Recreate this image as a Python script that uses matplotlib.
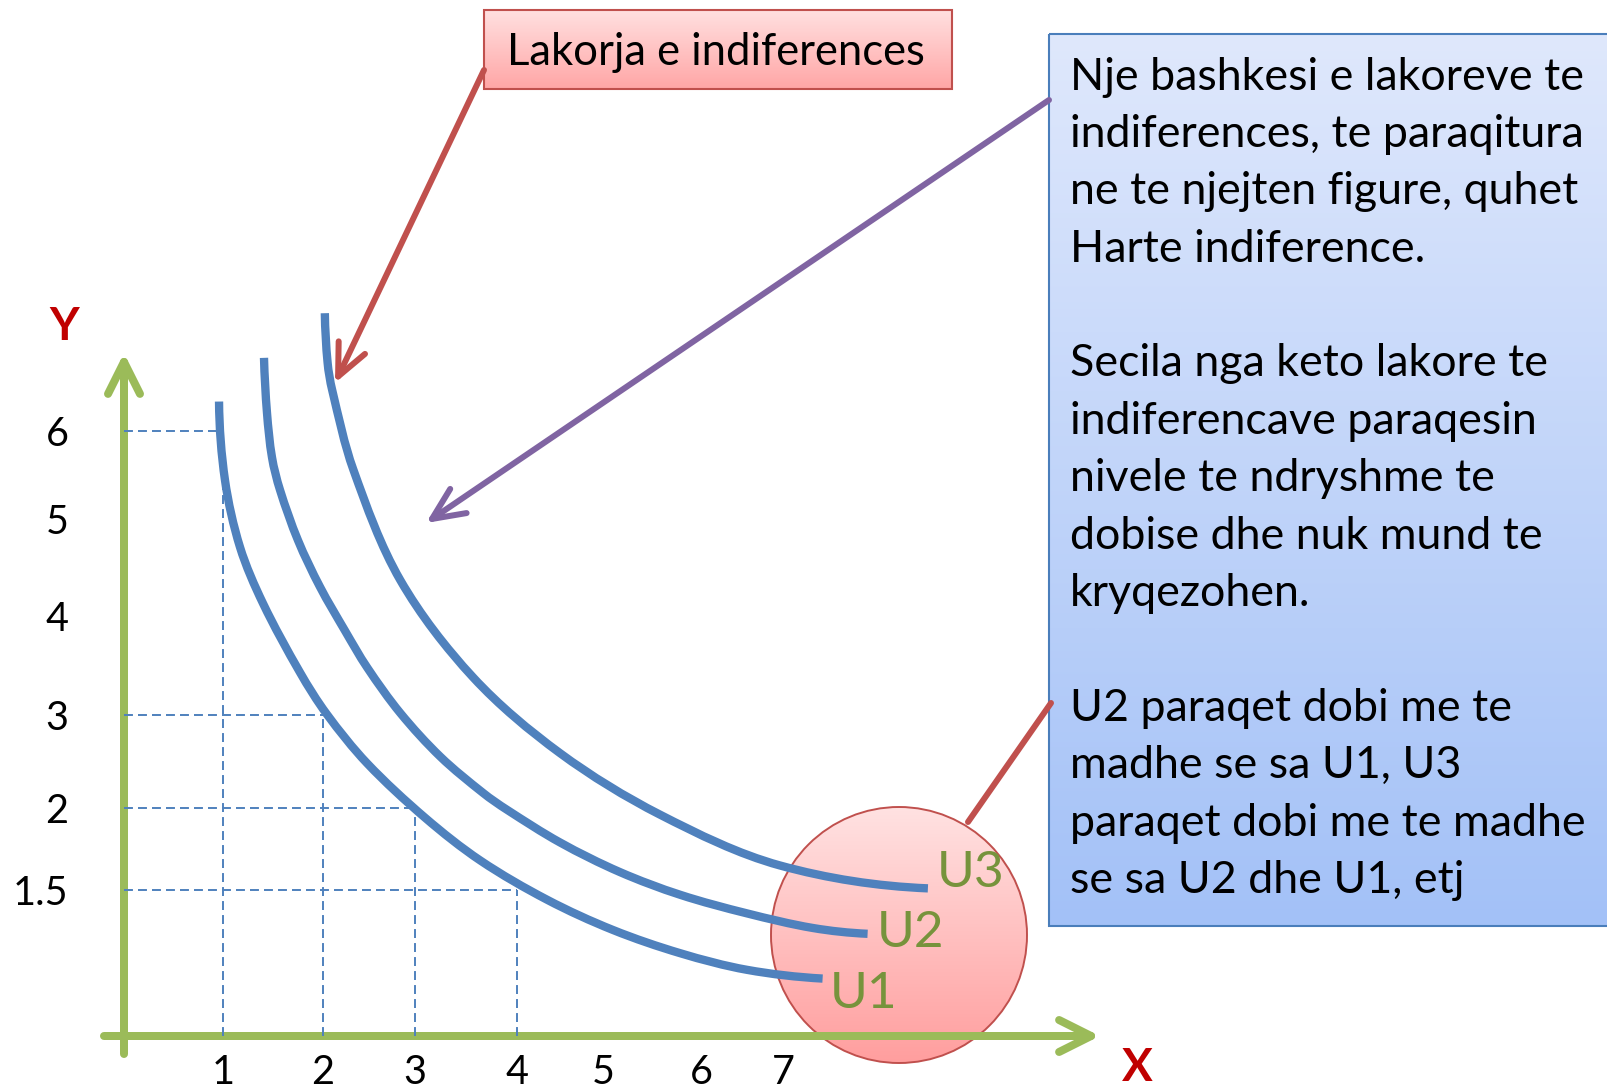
import numpy as np
import matplotlib
matplotlib.use("Agg")
import matplotlib.pyplot as plt
from matplotlib.patches import Rectangle, Circle, FancyArrowPatch, PathPatch
from matplotlib.path import Path

plt.rcParams['font.family'] = ['Lato', 'DejaVu Sans']

# ---------------- data ----------------
X_TICKS = [1, 2, 3, 4, 5, 6, 7]
X_LABELS = ['1', '2', '3', '4', '5', '6', '7']
Y_TICKS = [1.5, 2, 3, 4, 5, 6]
Y_LABELS = ['1.5', '2', '3', '4', '5', '6']

GUIDE_X = [1, 2, 3, 4]
GUIDE_Y = [6, 3, 2, 1.5]

U1_X = [0.96, 1.02, 1.17, 1.40, 1.77, 2.04, 2.48, 3.10, 3.64, 4.35, 5.10, 5.79, 6.56, 7.44]
U1_Y = [6.31, 5.44, 4.71, 4.13, 3.43, 3.01, 2.48, 1.94, 1.68, 1.40, 1.09, 0.85, 0.68, 0.59]

U2_X = [1.41, 1.44, 1.49, 1.57, 1.75, 1.97, 2.24, 2.48, 2.84, 3.25, 3.67, 3.90, 4.50, 5.17, 5.79, 6.56, 7.33, 7.94]
U2_Y = [6.77, 6.19, 5.70, 5.33, 4.78, 4.30, 3.85, 3.48, 3.02, 2.55, 2.16, 1.99, 1.79, 1.61, 1.45, 1.26, 1.11, 1.05]

U3_X = [2.02, 2.05, 2.10, 2.33, 2.84, 3.57, 4.50, 5.58, 6.96, 8.61]
U3_Y = [7.24, 6.72, 6.43, 5.56, 4.37, 3.38, 2.59, 1.96, 1.65, 1.51]

CURVE_NAMES = ['U1', 'U2', 'U3']

TITLE_TEXT = "Lakorja e indiferences"
BOX_LINES = [
    "Nje bashkesi e lakoreve te",
    "indiferences, te paraqitura",
    "ne te njejten figure, quhet",
    "Harte indiference.",
    "",
    "Secila nga keto lakore te",
    "indiferencave paraqesin",
    "nivele te ndryshme te",
    "dobise dhe nuk mund te",
    "kryqezohen.",
    "",
    "U2 paraqet dobi me te",
    "madhe se sa U1, U3",
    "paraqet dobi me te madhe",
    "se sa U2 dhe U1, etj",
]

# ------------- diagram spacing (non-uniform hand-drawn axes) -------------
X_GRID = [-1, 0, 1, 2, 3, 4, 5, 6, 7, 12]
X_POS = [-1, 0, 0.99, 1.99, 2.91, 3.93, 4.79, 5.77, 6.59, 11.09]
Y_GRID = [-1, 0, 1.5, 2, 3, 4, 5, 6, 10]
Y_POS = [-1, 0, 1.46, 2.28, 3.21, 4.20, 5.17, 6.05, 9.85]


def fx(v):
    return np.interp(v, X_GRID, X_POS)


def fxi(p):
    return np.interp(p, X_POS, X_GRID)


def fy(v):
    return np.interp(v, Y_GRID, Y_POS)


def fyi(p):
    return np.interp(p, Y_POS, Y_GRID)


# ---------------- colours ----------------
BLUE = '#4F81BD'
GREEN = '#9BBB59'
RED = '#C0504D'
PURPLE = '#8064A2'
OLIVE = '#77933C'
DARKRED = '#C00000'

W, H = 1608, 1091
fig = plt.figure(figsize=(W / 100, H / 100), dpi=100)
fig.patch.set_facecolor('white')

lay = fig.add_axes([0, 0, 1, 1], zorder=0)
lay.set_xlim(0, W)
lay.set_ylim(H, 0)
lay.axis('off')

PX = 100 / 72.0  # pixels per point


def grad_fill(patch, top, bottom, x0, x1, y0, y1, z):
    patch.set_zorder(z)
    lay.add_patch(patch)
    t = np.linspace(0, 1, 256)[:, None, None]
    c0 = np.array(matplotlib.colors.to_rgb(top))[None, None, :]
    c1 = np.array(matplotlib.colors.to_rgb(bottom))[None, None, :]
    arr = c0 * (1 - t) + c1 * t
    im = lay.imshow(arr, extent=(x0, x1, y1, y0), aspect='auto',
                    interpolation='bilinear', zorder=z - 0.01)
    im.set_clip_path(patch)


def arrow(p0, p1, color, lw_px, head=True, hl=23, hw=11):
    style = '->,head_length=%g,head_width=%g' % (hl, hw) if head else '-'
    a = FancyArrowPatch(p0, p1, arrowstyle=style, mutation_scale=1,
                        color=color, lw=lw_px / PX, capstyle='round',
                        joinstyle='round', shrinkA=0, shrinkB=0, zorder=5)
    lay.add_patch(a)


# highlight circle
circ = Circle((899, 935), 128, facecolor='none', edgecolor=RED, lw=1.4)
grad_fill(circ, '#FFE2E2', '#FF9E9E', 771, 1027, 807, 1063, 2)

# title box
tb = Rectangle((484, 10), 468, 79, facecolor='none', edgecolor=RED, lw=1.5)
grad_fill(tb, '#FFE0E0', '#FFA6A6', 484, 952, 10, 89, 2)

# explanation box
bb = Rectangle((1049, 34), 600, 892, facecolor='none', edgecolor='#4A7EBB', lw=1.5)
grad_fill(bb, '#DFE8FC', '#A3C1F7', 1049, 1649, 34, 926, 2)

lay.set_xlim(0, W)
lay.set_ylim(H, 0)

# axis arrows
arrow((104, 1036), (1100, 1036), GREEN, 8, hl=23, hw=11.5)
arrow((124, 1054), (124, 353), GREEN, 8, hl=23, hw=11.5)

# callout arrows
arrow((484, 70), (335, 383), RED, 6, hl=23, hw=10.5)
arrow((1049, 100), (426, 523), PURPLE, 6, hl=23, hw=10.5)
arrow((1051, 703), (968, 822), RED, 6, head=False)

renderer = fig.canvas.get_renderer()


def fit(txt, target):
    w = txt.get_window_extent(renderer).width
    txt.set_fontsize(txt.get_fontsize() * target / w)


t = lay.text(716, 65, TITLE_TEXT, ha='center', va='baseline', fontsize=30,
             color='black', zorder=6)
fit(t, 418)

ref = lay.text(1070, 0, BOX_LINES[1], fontsize=30)
fit(ref, 513)
body_fs = ref.get_fontsize()
ref.remove()
for i, line in enumerate(BOX_LINES):
    lay.text(1070, 89.5 + i * 57.4, line, ha='left', va='baseline',
             fontsize=body_fs, color='black', zorder=6)

# axis names
lay.text(64, 327, 'Y', ha='center', va='center', fontsize=33,
         fontweight='bold', color=DARKRED, zorder=6)
lay.text(1137, 1068, 'X', ha='center', va='center', fontsize=33,
         fontweight='bold', color=DARKRED, zorder=6)

# curve labels
for name, (lx, ly) in zip(CURVE_NAMES, [(830, 1008), (877, 947), (937, 887)]):
    lay.text(lx, ly, name, ha='left', va='baseline', fontsize=37,
             color=OLIVE, zorder=6)

# ---------------- chart axes ----------------
OX, OY = 124, 1036
xl, xh = -1, 12
yl, yh = -0.5, 10
left = (OX + 100 * fx(xl)) / W
width = 100 * (fx(xh) - fx(xl)) / W
bottom = (H - (OY - 100 * fy(yl))) / H
height = 100 * (fy(yh) - fy(yl)) / H
ax = fig.add_axes([left, bottom, width, height], zorder=2)
ax.patch.set_visible(False)
ax.set_xscale('function', functions=(fx, fxi))
ax.set_yscale('function', functions=(fy, fyi))
ax.set_xlim(xl, xh)
ax.set_ylim(yl, yh)
for s in ax.spines.values():
    s.set_visible(False)
ax.spines['bottom'].set_position(('data', 0))
ax.spines['left'].set_position(('data', 0))
ax.set_xticks(X_TICKS, X_LABELS)
ax.set_yticks(Y_TICKS, Y_LABELS)
ax.minorticks_off()
ax.tick_params(axis='x', length=0, pad=13, labelsize=28.5, colors='black')
ax.tick_params(axis='y', length=0, pad=40, labelsize=28.5, colors='black')

for gx, gy in zip(GUIDE_X, GUIDE_Y):
    ax.plot([0, gx], [gy, gy], color=BLUE, lw=1.4, ls=(0, (4.6, 2.6)),
            clip_on=False, zorder=1)
    ax.plot([gx, gx], [0, gy], color=BLUE, lw=1.4, ls=(0, (4.6, 2.6)),
            clip_on=False, zorder=1)


def smooth_path(xs, ys):
    """Chord-length cubic Hermite spline through the points (in scaled space)."""
    P = np.column_stack([fx(np.asarray(xs)), fy(np.asarray(ys))])
    d = np.sqrt(((P[1:] - P[:-1]) ** 2).sum(1))
    tt = np.concatenate([[0], np.cumsum(d)])
    n = len(P)
    M = np.zeros_like(P)
    for i in range(1, n - 1):
        M[i] = (P[i + 1] - P[i - 1]) / (tt[i + 1] - tt[i - 1])
    # parabolic end conditions
    M[0] = 2 * (P[1] - P[0]) / (tt[1] - tt[0]) - M[1]
    M[-1] = 2 * (P[-1] - P[-2]) / (tt[-1] - tt[-2]) - M[-2]
    verts = [P[0]]
    codes = [Path.MOVETO]
    for i in range(n - 1):
        h = tt[i + 1] - tt[i]
        verts += [P[i] + M[i] * h / 3, P[i + 1] - M[i + 1] * h / 3, P[i + 1]]
        codes += [Path.CURVE4] * 3
    return Path(np.array(verts), codes)


scaled_to_display = ax.transLimits + ax.transAxes
for xs, ys in [(U1_X, U1_Y), (U2_X, U2_Y), (U3_X, U3_Y)]:
    pp = PathPatch(smooth_path(xs, ys), transform=scaled_to_display,
                   fill=False, edgecolor=BLUE, lw=6.0, capstyle='butt',
                   joinstyle='round', clip_on=False, zorder=3)
    ax.add_artist(pp)

fig.savefig('out.png', dpi=100)
